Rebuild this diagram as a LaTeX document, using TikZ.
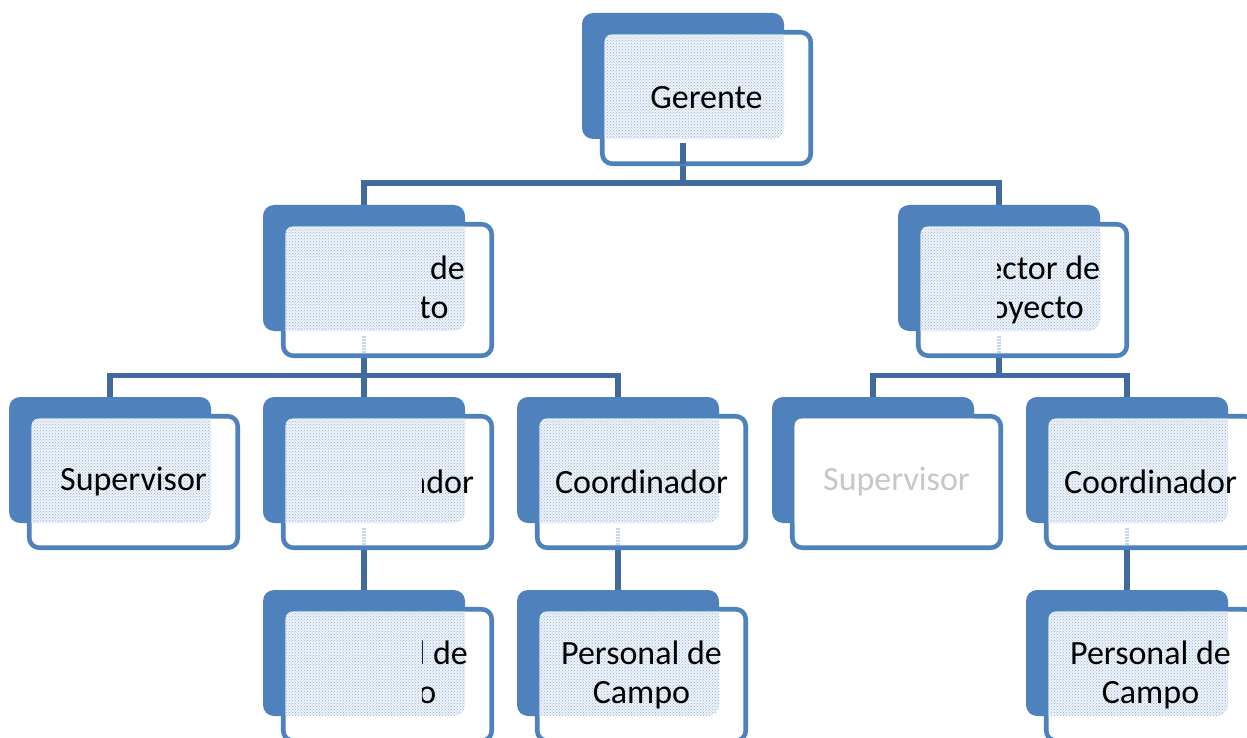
\documentclass[tikz,border=0pt]{standalone}
\usepackage{fontspec}
\setmainfont{Carlito}
\usetikzlibrary{patterns,calc}
\definecolor{boxblue}{RGB}{79,129,189}
\definecolor{connblue}{RGB}{65,106,158}
\definecolor{patblue}{RGB}{145,175,214}
\definecolor{patbase}{RGB}{238,243,249}
\definecolor{faintblue}{RGB}{200,214,232}
\pgfdeclarelayer{bg}
\pgfsetlayers{bg,main}
\tikzset{
  backbox/.style={rectangle, rounded corners=11pt, fill=boxblue, minimum width=202pt, minimum height=126pt, inner sep=0pt, outer sep=0pt, anchor=north west},
  frontbox/.style={rectangle, rounded corners=10pt, fill=white, draw=boxblue, line width=4.6pt, minimum width=208.5pt, minimum height=131.5pt, inner sep=0pt, outer sep=0pt},
  conn/.style={draw=connblue, line width=5.5pt},
  faint/.style={draw=faintblue, line width=4pt, dash pattern=on 1.5pt off 1.5pt},
  boxtext/.style={font=\fontsize{34}{39}\selectfont, align=center, inner sep=0pt, text=black},
  dotfill/.style={fill=patbase, postaction={pattern=crosshatch dots, pattern color=patblue}},
  nodots/.style={fill=white},
}
\newcommand\orgbox[6]{%
  \node[backbox] (#1) at (#2,#3) {};
  \node[frontbox] (#1F) at ([shift={(23.5,22)}]#1.center) {};
  \begin{scope}
    \clip[rounded corners=7pt] ([shift={(2.3,2.3)}]#1F.north west) rectangle ([shift={(-2.3,-2.3)}]#1F.south east);
    \fill[#6, rounded corners=11pt] (#1.north west) rectangle (#1.south east);
  \end{scope}
  \begin{scope}
    \clip (#5,0) rectangle (1300,800);
    \node[boxtext] (#1T) at (#1F.center) {#4};
  \end{scope}
}
\begin{document}
\begin{tikzpicture}[x=1pt,y=-1pt]
\clip (0,0) rectangle (1247,738);
\begin{pgfonlayer}{bg}
  \fill[white] (0,0) rectangle (1247,738);
\end{pgfonlayer}
% row 1
\orgbox{ger}{582}{13}{Gerente}{0}{dotfill}
% row 2
\orgbox{dirL}{263}{205}{\phantom{Director }de\\\phantom{Proyec}to}{421}{dotfill}
\orgbox{dirR}{898}{205}{\phantom{Dir}ector de\\\phantom{Pr}oyecto}{997}{dotfill}
% row 3
\orgbox{supL}{9}{397}{Supervisor}{0}{dotfill}
\orgbox{coordM}{263}{397}{\phantom{Coordin}ador}{422}{dotfill}
\orgbox{coordT}{517}{397}{Coordinador}{0}{dotfill}
\orgbox{supR}{772}{397}{\textcolor{black!22}{Supervisor}}{0}{nodots}
\orgbox{coordR}{1026}{397}{Coordinador}{0}{dotfill}
% row 4
\orgbox{persM}{263}{590}{\phantom{Persona}l de\\\phantom{Camp}o}{422}{dotfill}
\orgbox{persT}{517}{590}{Personal de\\Campo}{0}{dotfill}
\orgbox{persR}{1026}{590}{Personal de\\Campo}{0}{dotfill}
% connectors
\coordinate (b1) at (683,183);
\coordinate (b2) at (365,375.5);
\coordinate (b3) at (1000,375.5);
\begin{pgfonlayer}{bg}
  \draw[conn] (ger.south) -- (ger.south |- b1);
  \draw[conn] (dirL.north) |- (b1) -| (dirR.north);
  \draw[conn] (dirL.south) -- (dirL.south |- b2);
  \draw[conn] (supL.north) |- (b2) -| (coordT.north);
  \draw[conn] (coordM.north) -- (coordM.north |- b2);
  \draw[conn] (dirR.south) -- (dirR.south |- b3);
  \draw[conn] (supR.north) |- (b3) -| (coordR.north);
  \draw[conn] (coordM.south) -- (persM.north);
  \draw[conn] (coordT.south) -- (persT.north);
  \draw[conn] (coordR.south) -- (persR.north);
\end{pgfonlayer}
\draw[conn] ([shift={(0,4)}]ger.south) -- (gerF.south -| ger.south);
\foreach \n in {dirL,dirR,coordM,coordT,coordR}{
  \draw[faint] ([shift={(0,5)}]\n.south) -- ([shift={(0,-3)}]\n F.south -| \n.south);
}
\end{tikzpicture}
\end{document}
